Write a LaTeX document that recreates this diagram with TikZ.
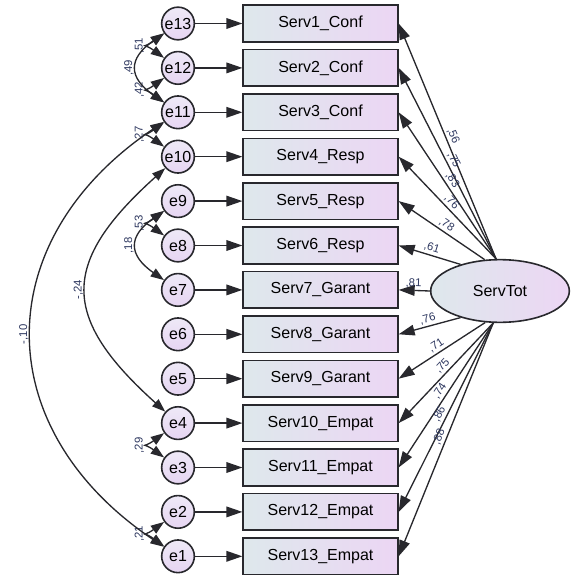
\documentclass[tikz,border=0pt]{standalone}
\usepackage{fontspec}
\setmainfont{Liberation Sans}
\usetikzlibrary{arrows.meta,shapes.geometric}
\definecolor{boxleft}{RGB}{222,232,236}
\definecolor{boxright}{RGB}{236,214,244}
\definecolor{errtop}{RGB}{238,233,247}
\definecolor{errbot}{RGB}{230,213,242}
\definecolor{edge}{RGB}{40,40,45}
\definecolor{lblcol}{RGB}{45,55,95}
\begin{document}
\begin{tikzpicture}[x=0.75pt, y=-0.75pt, font=\fontsize{12}{14}\selectfont,
  obs/.style={draw=edge, line width=1.2pt, left color=boxleft, right color=boxright,
    minimum width=116pt, minimum height=27.5pt, inner sep=0pt},
  err/.style={circle, draw=edge, line width=1.2pt, top color=errtop, bottom color=errbot,
    minimum size=24.5pt, inner sep=0pt},
  lat/.style={ellipse, draw=edge, line width=1.2pt, left color=boxleft, right color=boxright,
    minimum width=104pt, minimum height=47pt, inner sep=0pt},
  reg/.style={-{Triangle[length=12pt,width=8pt]}, line width=1pt, draw=edge},
  cov/.style={{Triangle[length=10pt,width=7pt]}-{Triangle[length=10pt,width=7pt]}, line width=1pt, draw=edge},
  lbl/.style={font=\fontsize{8.5}{10}\selectfont, text=lblcol, inner sep=1.5pt},
  clbl/.style={lbl, midway, rotate=90, anchor=south, inner sep=2pt}]
\useasboundingbox (0,0) rectangle (571,577);

\node[lat] (tot) at (500,291) {ServTot};

\foreach \i/\k in {1/Conf, 2/Conf, 3/Conf, 4/Resp, 5/Resp, 6/Resp, 7/Garant,
    8/Garant, 9/Garant, 10/Empat, 11/Empat, 12/Empat, 13/Empat} {
  \pgfmathsetmacro\yy{23.5+(\i-1)*44.4}
  \pgfmathtruncatemacro\ee{14-\i}
  \node[obs] (b\i) at (320.5,\yy) {Serv\i\_\k};
  \node[err] (e\ee) at (178,\yy) {e\ee};
  \draw[reg] (e\ee) -- (b\i);
}

% loadings
\foreach \i/\a/\v/\p in {1/97/{,56}/.51, 2/97/{,75}/.50, 3/97/{,83}/.51, 4/97/{,76}/.51,
    5/116/{,78}/.49, 6/146/{,61}/.50, 7/180/{,81}/.53, 8/214/{,76}/.50, 9/245/{,71}/.52,
    10/258/{,75}/.48, 11/258/{,74}/.50, 12/258/{,86}/.50, 13/258/{,88}/.50}
  \draw[reg] (tot.\a) -- node[lbl, sloped, above, pos=\p] {\v} (b\i.east);

% covariances
\draw[cov] (e13) .. controls +(-36,26) and +(-36,-26) .. (e12) node[clbl] {,51};
\draw[cov] (e12) .. controls +(-36,26) and +(-36,-26) .. (e11) node[clbl] {,42};
\draw[cov] (e13) .. controls +(-50,35) and +(-50,-35) .. (e11) node[clbl] {,49};
\draw[cov] (e11) .. controls +(-36,26) and +(-36,-26) .. (e10) node[clbl] {,27};
\draw[cov] (e9) .. controls +(-36,26) and +(-36,-26) .. (e8) node[clbl] {,53};
\draw[cov] (e9) .. controls +(-50,35) and +(-50,-35) .. (e7) node[clbl] {,18};
\draw[cov] (e4) .. controls +(-36,26) and +(-36,-26) .. (e3) node[clbl] {,29};
\draw[cov] (e2) .. controls +(-36,26) and +(-36,-26) .. (e1) node[clbl] {,21};
\draw[cov] (e11) .. controls +(-190,128) and +(-190,-128) .. (e1) node[clbl] {-,10};
\draw[cov] (e10) .. controls +(-118,106) and +(-118,-106) .. (e4) node[clbl] {-,24};
\end{tikzpicture}
\end{document}
